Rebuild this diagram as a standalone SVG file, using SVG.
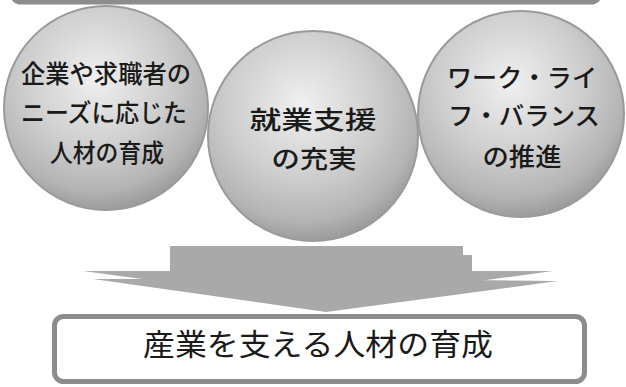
<svg xmlns="http://www.w3.org/2000/svg" width="626" height="387" viewBox="0 0 626 387">
<defs>
<radialGradient id="ball" cx="45%" cy="35%" r="65%">
<stop offset="0" stop-color="#f0f0f0"/>
<stop offset="0.55" stop-color="#cdcdcd"/>
<stop offset="0.85" stop-color="#b4b4b4"/>
<stop offset="1" stop-color="#9c9c9c"/>
</radialGradient>
<style>
.ball{fill:url(#ball);stroke:#9a9a9a;stroke-width:2}
.bt{font-family:"Noto Sans CJK JP","Noto Sans",sans-serif;font-size:25px;font-weight:500;fill:#1a1a1a;text-anchor:middle;dominant-baseline:central}
.box{fill:#ffffff;stroke:#8c8c8c;stroke-width:5}
.arr{fill:#a9a9a9}
</style>
</defs>
<rect width="626" height="387" fill="#ffffff"/>
<g id="top-box">
<rect class="box" x="12" y="-50" width="588" height="52" rx="9"/>
</g>
<g id="node-1">
<circle class="ball" cx="106" cy="108" r="102"/>
<text class="bt" x="106" y="72" textLength="170" lengthAdjust="spacingAndGlyphs">企業や求職者の</text>
<text class="bt" x="104" y="111" textLength="166" lengthAdjust="spacingAndGlyphs">ニーズに応じた</text>
<text class="bt" x="107" y="151" textLength="114" lengthAdjust="spacingAndGlyphs">人材の育成</text>
</g>
<g id="node-2">
<circle class="ball" cx="313" cy="136" r="105"/>
<text class="bt" x="313" y="118" textLength="127" lengthAdjust="spacingAndGlyphs">就業支援</text>
<text class="bt" x="314" y="157" textLength="85" lengthAdjust="spacingAndGlyphs">の充実</text>
</g>
<g id="node-3">
<circle class="ball" cx="521" cy="114" r="103"/>
<text class="bt" x="522" y="76" textLength="150" lengthAdjust="spacingAndGlyphs">ワーク・ライ</text>
<text class="bt" x="524" y="114" textLength="152" lengthAdjust="spacingAndGlyphs">フ・バランス</text>
<text class="bt" x="522" y="155" textLength="79" lengthAdjust="spacingAndGlyphs">の推進</text>
</g>
<g id="connectors">
<polygon class="arr" points="178,255 472,255 472,280 558,281 326,312 93,279 178,279"/>
<polygon class="arr" points="170,246 463,246 463,271 553,271 318,303 83,271 170,271"/>
</g>
<g id="node-result">
<rect class="box" x="54.5" y="316.5" width="530" height="65" rx="9"/>
<text x="318" y="341.5" font-family="'Noto Sans CJK JP','Noto Sans',sans-serif" font-size="30" fill="#1a1a1a" text-anchor="middle" dominant-baseline="central" textLength="350" lengthAdjust="spacingAndGlyphs">産業を支える人材の育成</text>
</g>
</svg>
